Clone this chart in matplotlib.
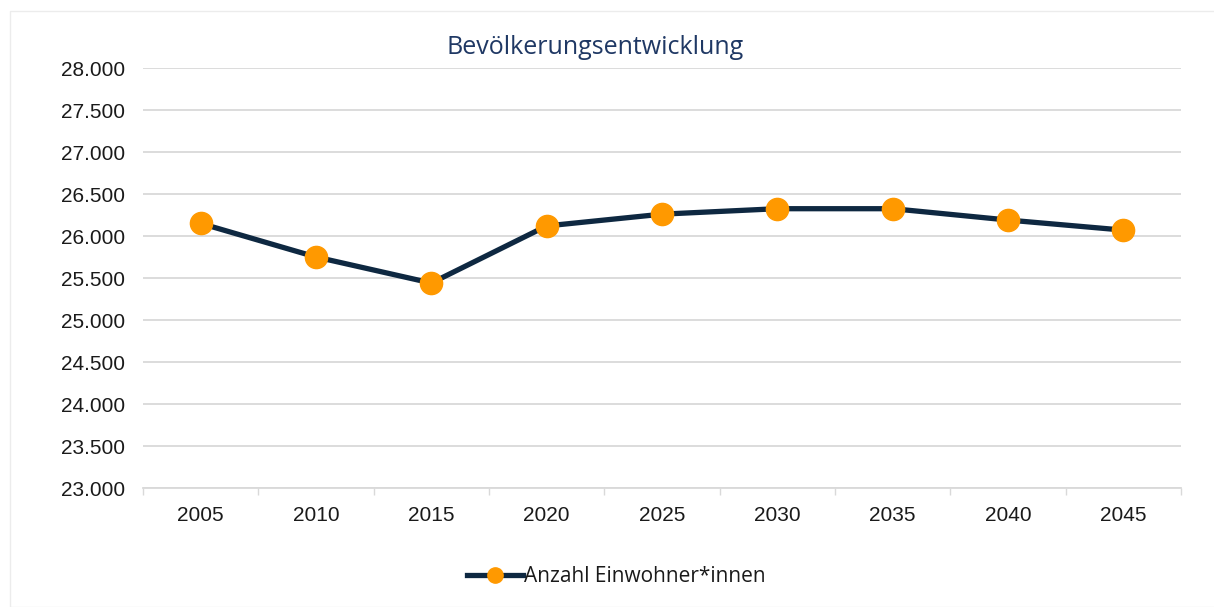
import matplotlib
matplotlib.use("Agg")
import matplotlib.pyplot as plt
from matplotlib.lines import Line2D
from matplotlib.patches import Rectangle
from matplotlib.ticker import FuncFormatter, MultipleLocator

years = ["2005", "2010", "2015", "2020", "2025", "2030", "2035", "2040", "2045"]
population = [26150, 25750, 25440, 26120, 26260, 26325, 26325, 26190, 26070]
title = "Bevölkerungsentwicklung"
series_label = "Anzahl Einwohner*innen"

W, H = 1214, 607
fig = plt.figure(figsize=(W / 100, H / 100), dpi=100)
fig.patch.set_facecolor("white")

# faint outer border
fig.add_artist(Rectangle((10 / W, 0), 1.2, 1 - 11 / H, transform=fig.transFigure,
                         fill=False, edgecolor="#ececec", linewidth=1))

left, right, top, bottom = 143, 1181, 68, 488
ax = fig.add_axes([left / W, 1 - bottom / H, (right - left) / W, (bottom - top) / H])

x = list(range(len(years)))
ax.plot(x, population, color="#0E2841", linewidth=3.8, zorder=3,
        marker="o", markersize=16, markerfacecolor="#FF9900",
        markeredgecolor="#FF9900", solid_capstyle="round")

ax.set_xlim(-0.5, len(years) - 0.5)
ax.set_ylim(23000, 28000)
ax.yaxis.set_major_locator(MultipleLocator(500))
ax.yaxis.set_major_formatter(FuncFormatter(lambda v, p: f"{int(v):,}".replace(",", ".")))
ax.grid(axis="y", color="#d9d9d9", linewidth=1.3, zorder=0)
ax.set_axisbelow(True)

ax.set_xticks(x)
ax.set_xticklabels(years)
ax.set_xticks([i - 0.5 for i in range(len(years) + 1)], minor=True)
ax.tick_params(axis="x", which="major", length=0, pad=13, labelsize=15, labelcolor="#1a1a1a")
ax.tick_params(axis="x", which="minor", length=5, width=1, color="#d9d9d9")
ax.tick_params(axis="y", length=0, pad=13, labelsize=15, labelcolor="#1a1a1a")
for lab in ax.get_xticklabels() + ax.get_yticklabels():
    lab.set_fontfamily("Liberation Sans")

for s in ["top", "right", "left"]:
    ax.spines[s].set_visible(False)
ax.spines["bottom"].set_color("#d9d9d9")
ax.spines["bottom"].set_linewidth(1.3)

fig.text(595 / W, 1 - 47 / H, title, ha="center", va="center",
         fontsize=18, color="#1F3864", family="Open Sans")

handle = Line2D([0], [0], color="#0E2841", linewidth=3.8, marker="o", markersize=11,
                markerfacecolor="#FF9900", markeredgecolor="#FF9900")
leg = fig.legend([handle], [series_label], loc="center", bbox_to_anchor=(616 / W, 1 - 577 / H),
                 frameon=False, handlelength=2.7, handletextpad=0.05,
                 prop={"family": "Open Sans", "size": 15})
for t in leg.get_texts():
    t.set_color("#1a1a1a")

fig.savefig("out.png", dpi=100, facecolor="white")
